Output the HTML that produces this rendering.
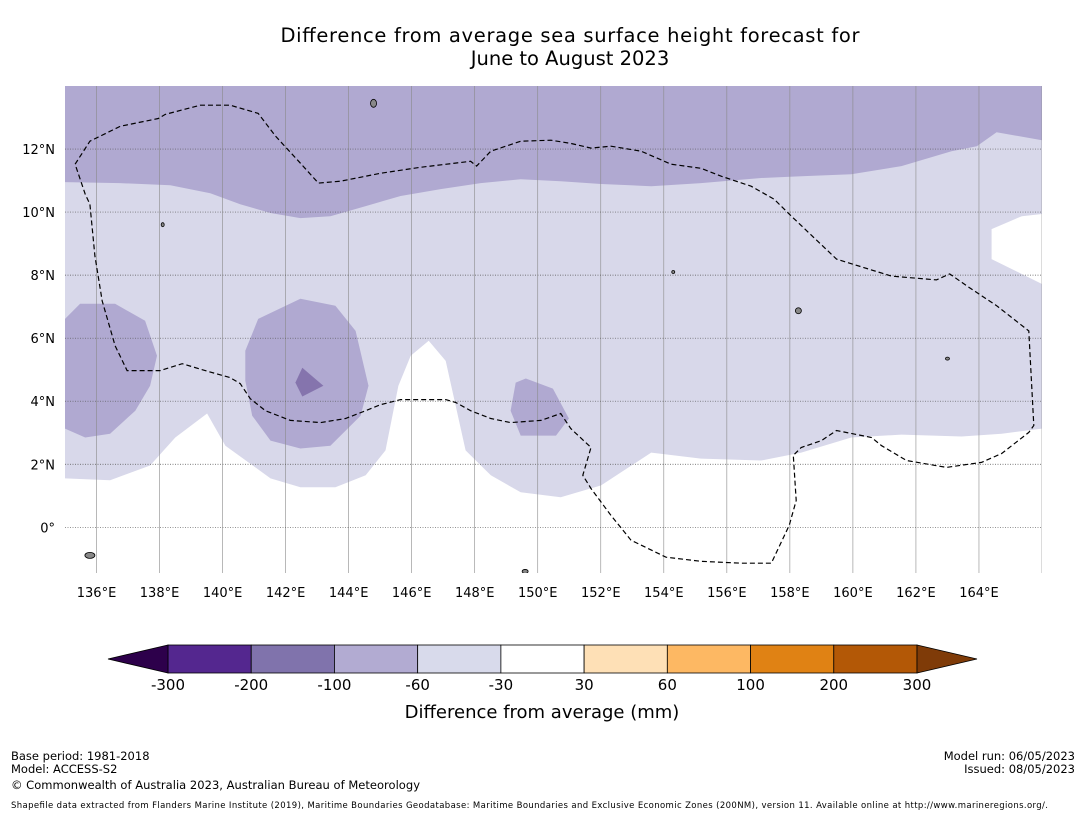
<!DOCTYPE html>
<html><head><meta charset="utf-8"><style>
body{margin:0;background:#fff;width:1085px;height:816px;overflow:hidden;font-family:"DejaVu Sans","Liberation Sans",sans-serif}
svg{position:absolute;left:0;top:0}
</style></head><body>
<svg id="s" width="1085" height="816">
<text x="570" y="42" font-size="19.5" text-anchor="middle" textLength="579">Difference from average sea surface height forecast for</text>
<text x="570" y="65" font-size="19.5" text-anchor="middle">June to August 2023</text>
<g id="map"></g>
<g id="axes"></g>
<g id="cbar"></g>
<text x="542" y="718" font-size="18" text-anchor="middle">Difference from average (mm)</text>
<g font-size="11.5">
<text x="11" y="760">Base period: 1981-2018</text>
<text x="11" y="773">Model: ACCESS-S2</text>
<text x="11" y="789" textLength="409">© Commonwealth of Australia 2023, Australian Bureau of Meteorology</text>
<text x="1075" y="760" text-anchor="end">Model run: 06/05/2023</text>
<text x="1075" y="773" text-anchor="end">Issued: 08/05/2023</text>
<text x="11" y="808" font-size="8.5" textLength="1037">Shapefile data extracted from Flanders Marine Institute (2019), Maritime Boundaries Geodatabase: Maritime Boundaries and Exclusive Economic Zones (200NM), version 11. Available online at http://www.marineregions.org/.</text>
</g>
</svg>
<script>
const lonRange=[135,166], latRange=[-1.45,14];
const lonTicks=[136,138,140,142,144,146,148,150,152,154,156,158,160,162,164];
const latTicks=[0,2,4,6,8,10,12];
const lightBand=[[135,14],[166,14],[166,3.13],[164.72,2.97],[163.45,2.88],[161.54,2.94],[159.95,2.85],[158.36,2.37],[157.09,2.12],[155.18,2.18],[153.6,2.37],[152.01,1.33],[150.73,0.95],[149.46,1.11],[148.51,1.65],[147.71,2.44],[147.08,5.28],[146.54,5.92],[145.97,5.44],[145.58,4.49],[145.17,2.44],[144.54,1.65],[143.58,1.27],[142.47,1.27],[141.52,1.55],[140.09,2.59],[139.51,3.61],[138.5,2.85],[137.7,1.96],[136.43,1.49],[135,1.55]];
const whitePatch=[[164.4,9.46],[165.36,9.87],[166,9.94],[166,7.72],[164.4,8.51]];
const topBand=[[135,14],[166,14],[166,12.28],[164.56,12.53],[163.93,12.09],[163.13,11.93],[161.54,11.46],[159.95,11.2],[158.36,11.14],[157.09,11.08],[155.18,10.92],[153.6,10.82],[152.01,10.89],[150.73,10.98],[149.46,11.04],[148.19,10.92],[146.92,10.73],[145.65,10.51],[144.54,10.19],[143.42,9.87],[142.47,9.81],[141.52,9.97],[140.56,10.25],[139.61,10.6],[138.34,10.85],[136.75,10.92],[135,10.95]];
const leftBlob=[[135,6.61],[135.48,7.09],[136.59,7.09],[137.54,6.55],[137.92,5.44],[137.7,4.49],[137.23,3.7],[136.43,2.97],[135.64,2.85],[135,3.13]];
const midBlob=[[140.72,5.6],[141.13,6.61],[142.47,7.25],[143.58,7.03],[144.22,6.23],[144.63,4.49],[144.38,3.54],[143.42,2.59],[142.47,2.5],[141.52,2.75],[140.94,3.54],[140.72,4.65]];
const darkBlob=[[142.31,4.59],[142.53,5.06],[143.2,4.49],[142.53,4.15]];
const rightBlob=[[149.14,3.7],[149.3,4.59],[149.62,4.72],[150.48,4.4],[150.99,3.45],[150.58,2.91],[149.46,2.91]];
const eez=[[135.32,11.52],[135.79,12.25],[136.75,12.72],[137.96,12.97],[138.18,13.1],[139.29,13.39],[140.24,13.39],[141.13,13.13],[141.68,12.41],[142.47,11.55],[143.04,10.92],[143.74,10.98],[145.01,11.23],[146.28,11.42],[147.87,11.61],[148.06,11.46],[148.51,11.93],[149.46,12.25],[150.42,12.28],[151.05,12.18],[151.69,12.03],[152.32,12.09],[153.28,11.93],[154.23,11.52],[155.18,11.39],[155.82,11.14],[156.77,10.82],[157.5,10.41],[158.05,9.87],[159.48,8.51],[161.22,7.97],[162.65,7.85],[163.07,8.04],[163.61,7.66],[164.56,7.03],[165.58,6.23],[165.74,3.23],[165.58,3.01],[164.72,2.34],[164.08,2.06],[162.97,1.9],[161.7,2.12],[160.91,2.59],[160.59,2.85],[159.48,3.07],[159,2.75],[158.36,2.53],[158.11,2.28],[158.2,0.85],[157.98,0.06],[157.41,-1.14],[156.46,-1.14],[155.18,-1.08],[154.07,-0.95],[152.96,-0.41],[152.32,0.38],[151.69,1.23],[151.43,1.65],[151.69,2.53],[151.05,3.13],[150.73,3.61],[150.1,3.39],[149.14,3.32],[148.51,3.45],[147.87,3.7],[147.4,3.96],[147.08,4.05],[145.65,4.05],[145.01,3.89],[144.54,3.7],[143.9,3.45],[143.11,3.32],[142.15,3.39],[141.36,3.7],[140.88,4.08],[140.56,4.56],[140.24,4.75],[139.45,4.97],[138.72,5.19],[138.02,4.97],[136.97,4.97],[136.59,5.76],[136.18,7.18],[135.95,8.61],[135.79,10.25],[135.64,10.57],[135.32,11.52]];
const islands=[[144.79,13.45,3,4],[135.79,-0.89,5,3],[158.27,6.87,3,3],[163.0,5.35,2,1.5],[149.6,-1.4,3,2],[138.1,9.6,1.5,2],[154.3,8.1,1.5,1.5]];
const cbLevels=["-300","-200","-100","-60","-30","30","60","100","200","300"];
const cbColors=["#54278f","#8073ac","#b2abd2","#d8daeb","#ffffff","#fee0b6","#fdb863","#e08214","#b35806"];
const cbExt=["#2d004b","#7f3b08"];

const X0=65,X1=1042,Y0=86,Y1=573;
const xS=l=>X0+(l-lonRange[0])/(lonRange[1]-lonRange[0])*(X1-X0);
const yS=l=>Y1-(l-latRange[0])/(latRange[1]-latRange[0])*(Y1-Y0);
const NS="http://www.w3.org/2000/svg";
function mk(tag,attrs,parent){const e=document.createElementNS(NS,tag);for(const k in attrs)e.setAttribute(k,attrs[k]);parent.appendChild(e);return e;}
const pts=a=>a.map(p=>xS(p[0]).toFixed(1)+","+yS(p[1]).toFixed(1)).join(" ");
const map=document.getElementById("map");
const cp=mk("clipPath",{id:"clip"},map);mk("rect",{x:X0,y:Y0,width:X1-X0,height:Y1-Y0},cp);
const g=mk("g",{"clip-path":"url(#clip)"},map);
const shapes=[[lightBand,"#d8d8ea","band-minus60"],[whitePatch,"#ffffff","band-white-patch"],[topBand,"#b0a9d1","band-minus100-north"],[leftBlob,"#b0a9d1","band-minus100-west"],[midBlob,"#b0a9d1","band-minus100-central"],[rightBlob,"#b0a9d1","band-minus100-east"],[darkBlob,"#8574ad","band-minus200"]];
shapes.forEach(s=>{const e=mk("polygon",{points:pts(s[0]),fill:s[1]},g);

});
lonTicks.concat([166]).forEach(l=>{const e=mk("line",{x1:xS(l),x2:xS(l),y1:Y0,y2:Y1,stroke:"#8a8a8a","stroke-width":0.6},g);

});
latTicks.forEach(l=>{const e=mk("line",{x1:X0,x2:X1,y1:yS(l),y2:yS(l),stroke:"#555","stroke-width":0.7,"stroke-dasharray":"1,1.5"},g);

});
const ez=mk("polyline",{points:pts(eez),fill:"none",stroke:"#000","stroke-width":1.2,"stroke-dasharray":"5,3"},g);


islands.forEach(i=>{const e=mk("ellipse",{cx:xS(i[0]),cy:yS(i[1]),rx:i[2],ry:i[3],fill:"#888",stroke:"#000","stroke-width":0.8},g);

});
const ax=document.getElementById("axes");
lonTicks.forEach(l=>{const t=mk("text",{x:xS(l),y:597,"font-size":13,"text-anchor":"middle"},ax);t.textContent=l+"°E";

});
latTicks.forEach(l=>{const t=mk("text",{x:55,y:yS(l)+5,"font-size":13,"text-anchor":"end"},ax);t.textContent=l===0?"0°":l+"°N";

});
const cb=document.getElementById("cbar");
const cx0=168,cx1=917,cy=645,ch=28,bw=(cx1-cx0)/cbColors.length;
cbColors.forEach((c,i)=>{const r=mk("rect",{x:cx0+i*bw,y:cy,width:bw,height:ch,fill:c,stroke:"#000","stroke-width":0.8},cb);

});
const tl=mk("polygon",{points:`${cx0},${cy} ${cx0},${cy+ch} 108,${cy+ch/2}`,fill:cbExt[0],stroke:"#000","stroke-width":0.8},cb);


const tr=mk("polygon",{points:`${cx1},${cy} ${cx1},${cy+ch} 977,${cy+ch/2}`,fill:cbExt[1],stroke:"#000","stroke-width":0.8},cb);


cbLevels.forEach((v,i)=>{const t=mk("text",{x:cx0+i*bw,y:690,"font-size":15,"text-anchor":"middle"},cb);t.textContent=v;

});
</script>
</body></html>
